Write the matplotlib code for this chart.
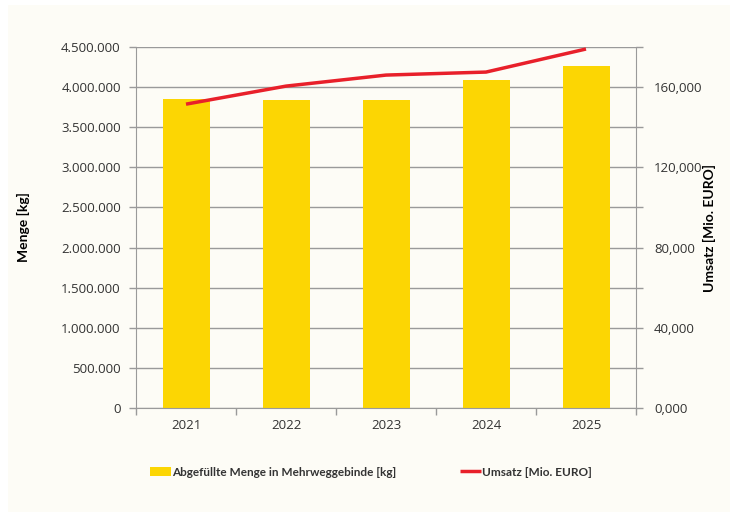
import matplotlib
matplotlib.use('Agg')
import matplotlib.pyplot as plt
from matplotlib.patches import Rectangle
from matplotlib.ticker import FuncFormatter, MultipleLocator

YEARS = ['2021', '2022', '2023', '2024', '2025']
MENGE = [3853000, 3840000, 3840000, 4090000, 4262000]   # kg
UMSATZ = [151.5, 160.5, 166.0, 167.5, 179.0]            # Mio. EURO

CREAM, YELLOW, RED, GRID, TEXT = '#fdfcf6', '#fcd603', '#e8202a', '#9a9a9a', '#333333'
NARROW = ['Lato', 'DejaVu Sans']
plt.rcParams.update({
    'font.family': ['Open Sans', 'DejaVu Sans'], 'font.size': 9.5,
    'text.color': TEXT, 'xtick.color': GRID, 'ytick.color': GRID,
    'xtick.labelcolor': TEXT, 'ytick.labelcolor': TEXT,
})

fig = plt.figure(figsize=(7.3, 5.12), dpi=100, facecolor='white')
fig.patches.append(Rectangle((8 / 730, 0), 1, 1 - 5 / 512, transform=fig.transFigure,
                             facecolor=CREAM, edgecolor='none', zorder=-10))

ax = fig.add_axes([136 / 730, 104 / 512, 500 / 730, 361 / 512])
ax.set_facecolor(CREAM)
x = list(range(len(YEARS)))
bars = ax.bar(x, MENGE, width=0.47, color=YELLOW, zorder=2,
              label='Abgefüllte Menge in Mehrweggebinde [kg]')
ax.set_xlim(-0.5, len(YEARS) - 0.5)
ax.set_ylim(0, 4500000)
ax.yaxis.set_major_locator(MultipleLocator(500000))
ax.yaxis.set_major_formatter(FuncFormatter(lambda v, p: f'{v:,.0f}'.replace(',', '.')))
ax.grid(True, axis='y', color=GRID, lw=1, zorder=0)
ax.set_axisbelow(True)
ax.set_xticks([i - 0.5 for i in range(len(YEARS) + 1)])
ax.set_xticklabels([])
ax.set_xticks(x, minor=True)
ax.set_xticklabels(YEARS, minor=True)
ax.tick_params(axis='x', which='minor', length=0, pad=8)
ax.tick_params(axis='x', which='major', length=5, width=1, direction='out')
ax.tick_params(axis='y', length=5, width=1, direction='out', pad=6)
for s in ['left', 'right', 'bottom']:
    ax.spines[s].set_color(GRID)
ax.spines['top'].set_visible(False)
ax.set_ylabel('Menge [kg]', fontweight='bold', family=NARROW, fontsize=10, labelpad=22)

ax2 = ax.twinx()
line, = ax2.plot(x, UMSATZ, color=RED, lw=2.5, solid_capstyle='butt', zorder=3,
                 label='Umsatz [Mio. EURO]')
ax2.set_ylim(0, 180)
ax2.yaxis.set_major_locator(MultipleLocator(40))
ax2.yaxis.set_minor_locator(MultipleLocator(20))
ax2.yaxis.set_major_formatter(FuncFormatter(lambda v, p: f'{v:.3f}'.replace('.', ',')))
ax2.tick_params(axis='y', which='both', length=5, width=1, direction='out', pad=8)
for s in ['left', 'right', 'bottom', 'top']:
    ax2.spines[s].set_visible(False)
ax.spines['right'].set_visible(True)
ax2.set_ylabel('Umsatz [Mio. EURO]', fontweight='bold', family=NARROW, fontsize=10,
               labelpad=0)

leg = fig.legend([bars, line], [bars.get_label(), line.get_label()], ncol=2,
                 loc='center left', bbox_to_anchor=(139 / 730, 1 - 472 / 512),
                 frameon=False, handlelength=1.8, handletextpad=0.1,
                 columnspacing=5.4, prop={'family': NARROW, 'weight': 'bold', 'size': 8.5})

fig.savefig('out.png', dpi=100, facecolor='white')
